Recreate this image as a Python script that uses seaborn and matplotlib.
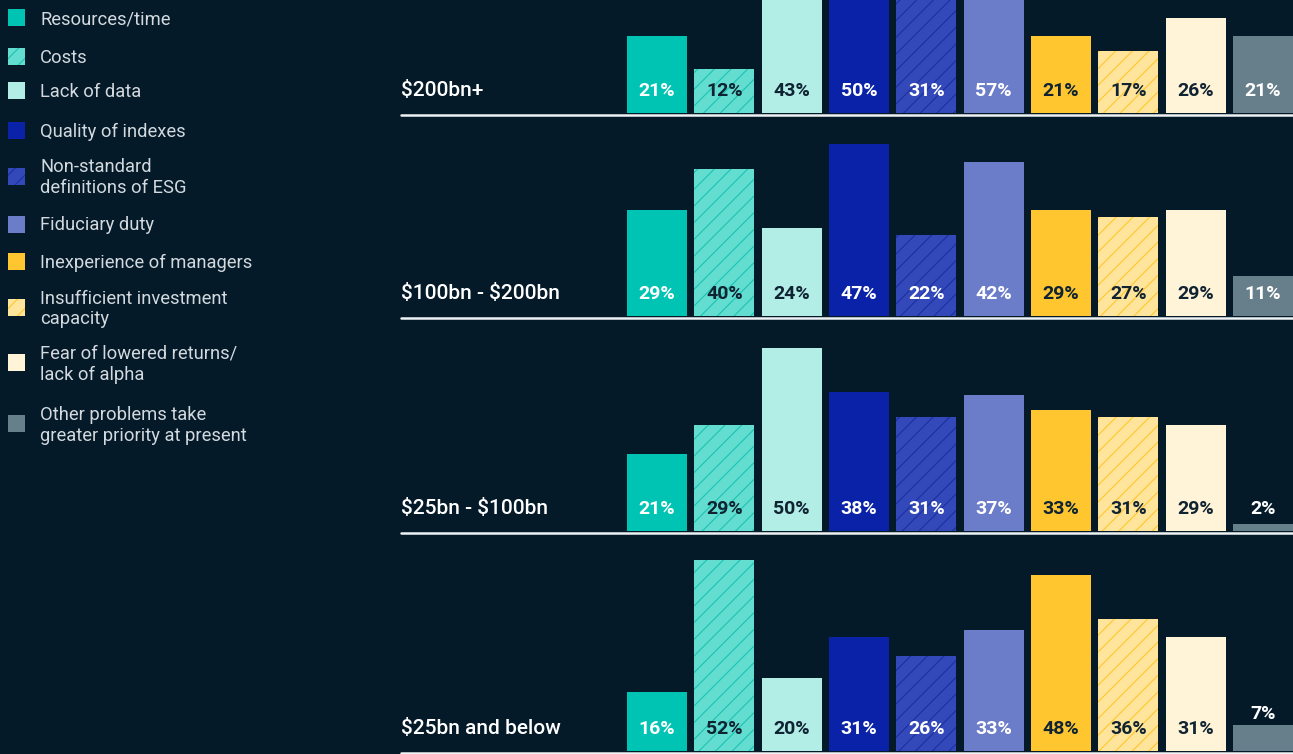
import matplotlib
matplotlib.use("Agg")
import matplotlib.pyplot as plt
from matplotlib.patches import Rectangle
import seaborn as sns
import pandas as pd

# ---------------- data ----------------
categories = ["Resources/time", "Costs", "Lack of data", "Quality of indexes",
              "Non-standard\ndefinitions of ESG", "Fiduciary duty",
              "Inexperience of managers", "Insufficient investment\ncapacity",
              "Fear of lowered returns/\nlack of alpha",
              "Other problems take\ngreater priority at present"]
groups = ["$200bn+", "$100bn - $200bn", "$25bn - $100bn", "$25bn and below"]
v_200bn_plus = [21, 12, 43, 50, 31, 57, 21, 17, 26, 21]
v_100_200bn = [29, 40, 24, 47, 22, 42, 29, 27, 29, 11]
v_25_100bn = [21, 29, 50, 38, 31, 37, 33, 31, 29, 2]
v_25bn_below = [16, 52, 20, 31, 26, 33, 48, 36, 31, 7]
group_values = [v_200bn_plus, v_100_200bn, v_25_100bn, v_25bn_below]

# ---------------- style ----------------
BG = "#041a29"
fill_colors = ["#00c4b3", "#62ddd0", "#b2ede6", "#0a22a8", "#3349b9",
               "#6b7cc8", "#ffc62f", "#ffe49b", "#fff4d7", "#677f8a"]
hatch_colors = [None, "#1cc3b3", None, None, "#1b2fa0",
                None, None, "#ffc62f", None, None]
dark_text = [False, True, True, False, False, False, True, True, True, False]
DARK = "#0f2332"
WHITE = "#ffffff"
LEGEND_TEXT = "#d3d9de"

sns.set_style("white")
plt.rcParams["font.family"] = ["Roboto", "DejaVu Sans"]
plt.rcParams["text.parse_math"] = False
plt.rcParams["hatch.linewidth"] = 0.8

W, H = 1293, 754
fig = plt.figure(figsize=(W / 100, H / 100), dpi=100, facecolor=BG)

# layout (pixels)
px_per_pct = 3.67
bar_bottoms = [113, 316, 531, 751]
ax_left_px, ax_right_px = 401, 1293
first_center, pitch = 657, 67.33
ymin, ymax = -1.0, 61.0
label_base = 4.5  # baseline of in-bar labels, in % units above bar bottom

for gi, (gname, vals) in enumerate(zip(groups, group_values)):
    base = bar_bottoms[gi]
    bottom_px = base + (-ymin) * px_per_pct
    height_px = (ymax - ymin) * px_per_pct
    ax = fig.add_axes([ax_left_px / W, (H - bottom_px) / H,
                       (ax_right_px - ax_left_px) / W, height_px / H])
    df = pd.DataFrame({"problem": categories, "pct": vals})
    sns.barplot(data=df, x="problem", y="pct", hue="problem",
                order=categories, hue_order=categories,
                palette=fill_colors, saturation=1, width=0.89,
                legend=False, ax=ax, linewidth=0)
    for ci, cont in enumerate(ax.containers):
        for bar in cont:
            bar.set_clip_on(False)
            if hatch_colors[ci]:
                bar.set_hatch("//")
                bar.set_edgecolor(hatch_colors[ci])
                bar.set_linewidth(0)
    ax.set_xlim(-(first_center - ax_left_px) / pitch,
                9 + (ax_right_px - (first_center + 9 * pitch)) / pitch)
    ax.set_ylim(ymin, ymax)
    ax.axis("off")
    ax.axhline(-0.42, color="#eef2f4", lw=1.8, zorder=5, clip_on=False)

    for i, v in enumerate(vals):
        if v >= 9:
            y, col = label_base, (DARK if dark_text[i] else WHITE)
        else:
            y, col = max(label_base, v + 1.7), WHITE
        ax.text(i, y, f"{v}%", ha="center", va="baseline", fontsize=14,
                fontweight="bold", color=col, zorder=6)
    ax.text(0, label_base, gname, transform=ax.get_yaxis_transform(),
            ha="left", va="baseline", fontsize=15, fontweight="medium",
            color=WHITE)

# ---------------- legend (manual, left column) ----------------
legend_centers = [17.5, 56.5, 90.5, 130.5, 176, 224, 261.5, 307.5, 362.5, 423.5]
sq = 17
for lab, fc, hc, cy in zip(categories, fill_colors, hatch_colors, legend_centers):
    rect = Rectangle((8 / W, 1 - (cy + sq / 2) / H), sq / W, sq / H,
                     transform=fig.transFigure, facecolor=fc,
                     edgecolor=hc if hc else fc, hatch="//" if hc else None,
                     linewidth=0)
    fig.patches.append(rect)
    lines = lab.split("\n")
    if len(lines) == 1:
        baselines = [cy + 6.5]
    else:
        baselines = [cy - 3.5, cy + 17]
    for ln, by in zip(lines, baselines):
        fig.text(40 / W, 1 - by / H, ln, ha="left", va="baseline",
                 fontsize=13.2, color=LEGEND_TEXT)

fig.savefig("out.png", dpi=100, facecolor=BG)
